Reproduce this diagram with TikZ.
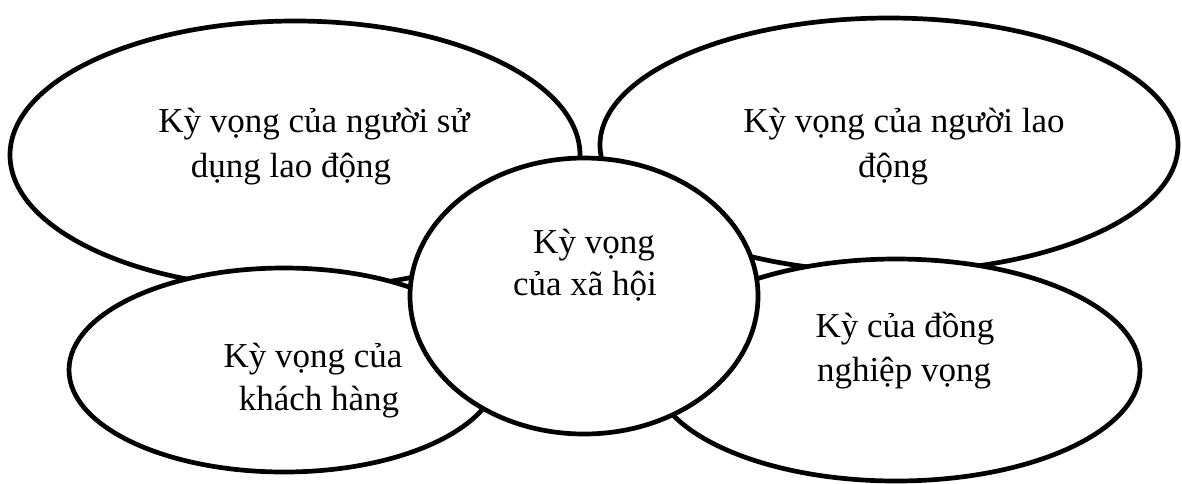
\documentclass[tikz,border=0pt]{standalone}
\usepackage{fontspec}
\setmainfont{Liberation Serif}
\usetikzlibrary{shapes.geometric}
\begin{document}
\begin{tikzpicture}[x=1pt,y=-1pt,
  oval/.style={ellipse, draw=black, fill=white, line width=4.7pt, inner sep=0pt},
  lbl/.style={anchor=base, inner sep=0pt, font=\fontsize{35}{42}\selectfont}]
\useasboundingbox (0,0) rectangle (1182,483);
\fill[white] (0,0) rectangle (1182,483);
% ellipses (back to front)
\node[oval, minimum width=570pt, minimum height=268pt] (tl) at (295,155) {};
\node[oval, minimum width=578pt, minimum height=254pt] (tr) at (889,145) {};
\node[oval, minimum width=430pt, minimum height=204pt] (bl) at (284,370) {};
\node[oval, minimum width=488pt, minimum height=222pt] (br) at (896,370) {};
\node[oval, minimum width=348pt, minimum height=276pt] (c) at (584,296) {};
% texts
\node[lbl] (tl1) at (314,132) {Kỳ vọng của người sử};
\node[lbl] (tl2) at (291,177) {dụng lao động};
\node[lbl] (tr1) at (904,132) {Kỳ vọng của người lao};
\node[lbl] (tr2) at (893,177) {động};
\node[lbl] (c1) at (594,253) {Kỳ vọng};
\node[lbl] (c2) at (585,295) {của xã hội};
\node[lbl] (bl1) at (313,367) {Kỳ vọng của};
\node[lbl] (bl2) at (319,410) {khách hàng};
\node[lbl] (br1) at (905,337) {Kỳ của đồng};
\node[lbl] (br2) at (904,381) {nghiệp vọng};
\end{tikzpicture}
\end{document}
